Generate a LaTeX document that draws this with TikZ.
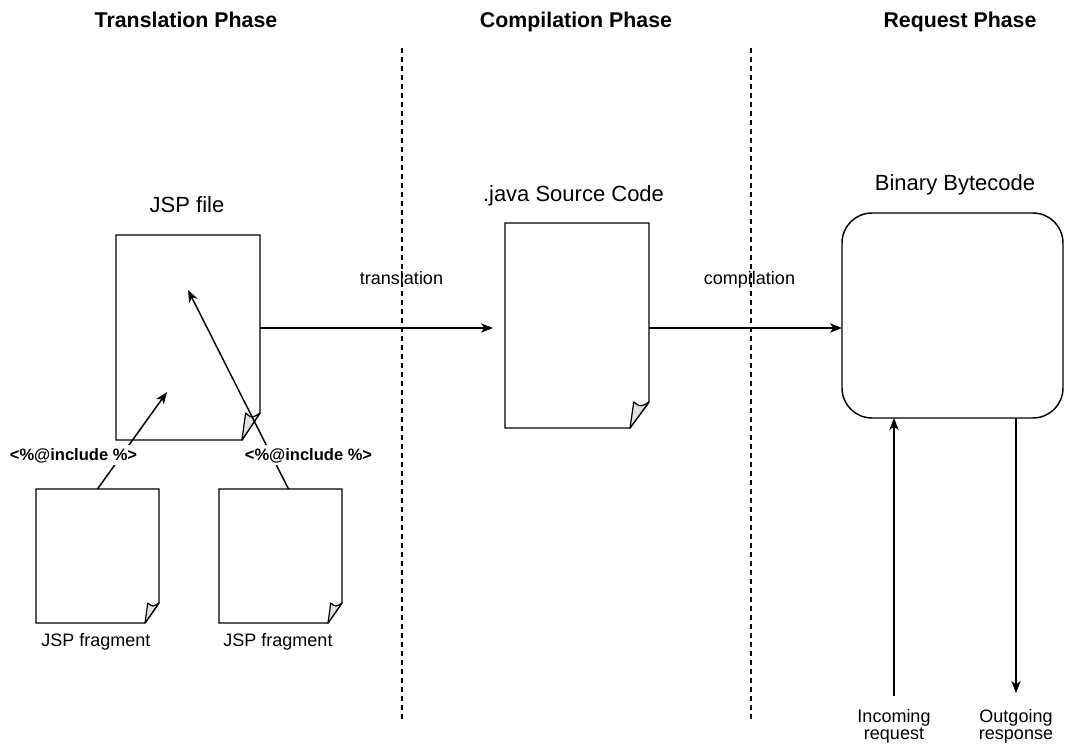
\documentclass[tikz,border=0pt]{standalone}
\usepackage{fontspec}
\setmainfont{Liberation Sans}
\usetikzlibrary{calc,arrows.meta}
\newcommand\drawdocpage[3]{%
  \draw[docline] (#1.north west) -- (#1.north east) -- ($(#1.south east)+(0,-#3)$)
     -- ($(#1.south east)+(-#2,0)$) -- (#1.south west) -- cycle;
  \filldraw[flap] ($(#1.south east)+(-#2,0)$) -- ($(#1.south east)+(-#2*0.8,-#3)$)
     .. controls ($(#1.south east)+(-#2*0.45,-#3*0.8)$) .. ($(#1.south east)+(0,-#3)$) -- cycle;
}
\begin{document}
\begin{tikzpicture}[x=0.75pt,y=-0.75pt,
  docline/.style={line width=1.1pt, line join=miter},
  flap/.style={fill=gray!22, draw=black, line width=0.9pt, line join=round},
  arr/.style={line width=1.1pt, -{Stealth[length=9pt,width=7pt,inset=2.5pt]}},
  phase/.style={font=\fontsize{16}{19}\selectfont\bfseries, anchor=base},
  doctitle/.style={font=\fontsize{16.5}{20}\selectfont, anchor=base},
  lbl/.style={font=\fontsize{13.5}{13}\selectfont, anchor=base},
  incl/.style={font=\fontsize{12.4}{15}\selectfont\bfseries, fill=white, inner sep=2pt, anchor=base},
  docnode/.style={inner sep=0pt, outer sep=0pt, anchor=north west, draw=none},
  divider/.style={dash pattern=on 3.75pt off 3pt, line width=0.8pt}]
\useasboundingbox (0,0) rectangle (1065,747);

% phase headings
\node[phase] (ph1) at (186,27) {Translation Phase};
\node[phase] (ph2) at (576,27) {Compilation Phase};
\node[phase] (ph3) at (960,27) {Request Phase};

% dividers
\coordinate (d1a) at (402,48);
\coordinate (d1b) at (402,720);
\coordinate (d2a) at (751,48);
\coordinate (d2b) at (751,720);
\draw[divider] (d1a) -- (d1b);
\draw[divider] (d2a) -- (d2b);

% documents
\node[docnode, minimum width=108pt, minimum height=153.75pt] (jsp) at (116,235) {};
\node[docnode, minimum width=108pt, minimum height=153.75pt] (java) at (505,223) {};
\node[docnode, minimum width=92.25pt, minimum height=100.5pt] (frag1) at (36,489) {};
\node[docnode, minimum width=92.25pt, minimum height=100.5pt] (frag2) at (219,489) {};
\drawdocpage{jsp}{18}{27}
\drawdocpage{java}{19}{26}
\drawdocpage{frag1}{14}{20}
\drawdocpage{frag2}{14}{20}

\node[draw, line width=1.1pt, rounded corners=22.5pt, inner sep=0pt, outer sep=0pt,
      anchor=north west, minimum width=165.75pt, minimum height=153.75pt] (bb) at (842,213) {};

% titles
\node[doctitle] (jsptitle) at (187,212) {JSP file};
\node[doctitle] (javatitle) at (573.5,201) {.java Source Code};
\node[doctitle] (bbtitle) at (955,190) {Binary Bytecode};
\node[lbl] (fl1) at (96,646) {JSP fragment};
\node[lbl] (fl2) at (278,646) {JSP fragment};
\node[lbl] (trl) at (401.5,284) {translation};
\node[lbl] (cpl) at (749.5,284) {compilation};

% main flow
\coordinate (ay) at (0,328);
\draw[arr, shorten >=9pt] (jsp.east |- ay) -- (java.west |- ay);
\draw[arr] (java.east |- ay) -- (bb.west |- ay);

% includes
\coordinate (t1) at (167,392);
\coordinate (t2) at (188,290);
\draw[arr] (frag1.north) -- (t1);
\draw[arr] ($(frag2.north)+(8,0)$) -- (t2);
\node[incl] (inc1) at (73.5,460) {<\%@include \%>};
\node[incl] (inc2) at (308.5,460) {<\%@include \%>};

% request / response
\node[lbl, align=center, anchor=north, inner sep=0pt] (inc) at (894,709) {Incoming\\request};
\node[lbl, align=center, anchor=north, inner sep=0pt] (outr) at (1016,709) {Outgoing\\response};
\draw[arr] ([yshift=10pt]inc.north) -- (inc.north |- bb.south);
\draw[arr] (outr.north |- bb.south) -- ([yshift=12pt]outr.north);
\end{tikzpicture}
\end{document}
